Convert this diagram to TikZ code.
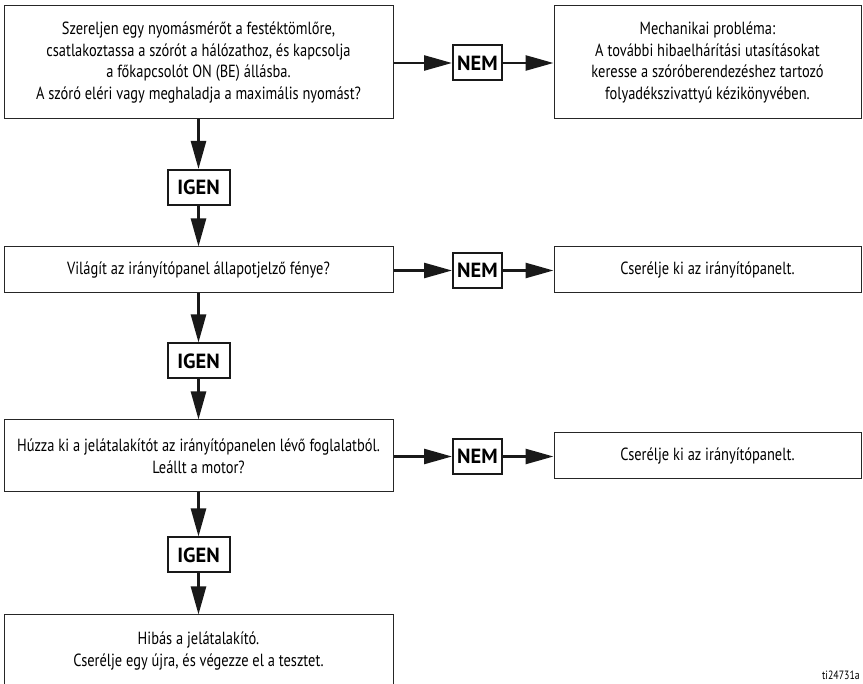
\documentclass[tikz,border=0pt]{standalone}
\usepackage{fontspec}
\setmainfont[FakeStretch=0.82]{PT Sans}
\newfontfamily\tagfont{PT Sans}
\usetikzlibrary{arrows.meta,positioning}
\tikzset{
  box/.style={draw=black!85,line width=1pt,align=center,inner sep=0pt,
              font=\fontsize{17.6}{21.7}\selectfont},
  question/.style={box,minimum width=389pt},
  answer/.style={box,minimum width=307pt},
  tag/.style={draw=black!90,line width=2pt,inner sep=0pt,minimum height=35pt,
              font=\tagfont\bfseries\fontsize{20.5}{20.5}\selectfont},
  yes/.style={tag,minimum width=62pt},
  no/.style={tag,minimum width=49pt},
  arr/.style={-{Triangle[length=28pt,width=15pt]},line width=2.6pt,draw=black!90},
}

\begin{document}
\begin{tikzpicture}[x=1pt,y=-1pt]
    \useasboundingbox (0,0) rectangle (863,684);
    \clip (0,0) rectangle (863,684);
    \node[question,minimum height=113pt] (q1) at (198.5,62.5)
      {Szereljen egy nyomásmérőt a festéktömlőre,\\csatlakoztassa a szórót a hálózathoz, és kapcsolja\\a főkapcsolót ON (BE) állásba.\\A szóró eléri vagy meghaladja a maximális nyomást?};
    \node[no] (n1) at (477.5,63) {NEM};
    \node[answer,minimum height=113pt] (a1) at (707.5,62.5)
      {Mechanikai probléma:\\A további hibaelhárítási utasításokat\\keresse a szóróberendezéshez tartozó\\folyadékszivattyú kézikönyvében.};
    \node[yes] (y1) at (198.5,187.5) {IGEN};
    \node[question,minimum height=46pt] (q2) at (198.5,270) {Világít az irányítópanel állapotjelző fénye?};
    \node[no] (n2) at (477.5,270.5) {NEM};
    \node[answer,minimum height=46pt] (a2) at (707.5,270) {Cserélje ki az irányítópanelt.};
    \node[yes] (y2) at (198.5,361) {IGEN};
    \node[question,minimum height=72pt] (q3) at (198.5,456)
      {Húzza ki a jelátalakítót az irányítópanelen lévő foglalatból.\\Leállt a motor?};
    \node[no] (n3) at (477.5,456.5) {NEM};
    \node[answer,minimum height=46pt] (a3) at (707.5,456) {Cserélje ki az irányítópanelt.};
    \node[yes] (y3) at (198.5,555) {IGEN};
    \node[question,minimum height=72pt] (q4) at (198.5,651)
      {Hibás a jelátalakító.\\Cserélje egy újra, és végezze el a tesztet.};
    \node[anchor=south east,inner sep=0pt,font=\fontsize{12}{12}\selectfont] (ref) at (860,680) {ti24731a};
    \draw[arr] (q1.east |- n1) -- (n1.west);
    \draw[arr] (n1) -- (a1.west |- n1);
    \draw[arr] (q2.east |- n2) -- (n2.west);
    \draw[arr] (n2) -- (a2.west |- n2);
    \draw[arr] (q3.east |- n3) -- (n3.west);
    \draw[arr] (n3) -- (a3.west |- n3);
    \draw[arr] (q1) -- (y1);
    \draw[arr] (y1) -- (q2);
    \draw[arr] (q2) -- (y2);
    \draw[arr] (y2) -- (q3);
    \draw[arr] (q3) -- (y3);
    \draw[arr] (y3) -- (q4);
  \end{tikzpicture}
\end{document}
